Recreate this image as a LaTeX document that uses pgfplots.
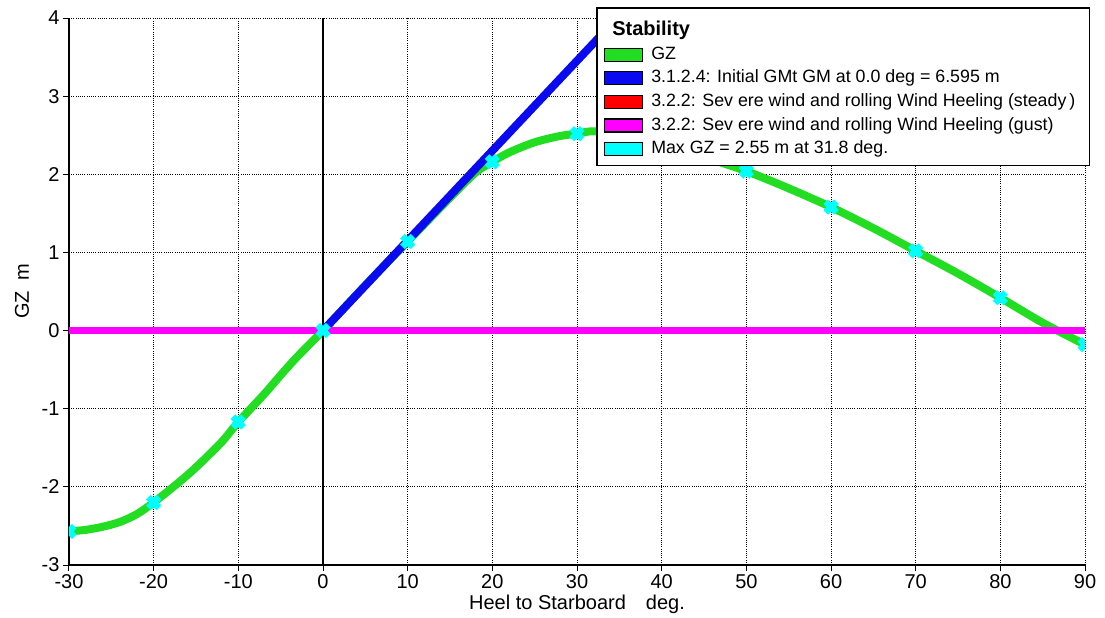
\documentclass[border=0pt]{standalone}
\usepackage{fontspec}
\setmainfont{Liberation Sans}
\usepackage{pgfplots}
\pgfplotsset{compat=1.18}
\definecolor{gzgreen}{RGB}{34,221,34}
\definecolor{gmblue}{RGB}{10,10,240}
\definecolor{wmag}{RGB}{255,0,255}
\definecolor{wred}{RGB}{255,0,0}
\definecolor{mcyan}{RGB}{0,255,255}
\pgfplotstableread{
x y
-30 -2.57
-28 -2.55
-26 -2.51
-24 -2.45
-22 -2.35
-20 -2.20
-17 -1.94
-15 -1.75
-12 -1.43
-10 -1.17
-7 -0.82
-5 -0.57
-3 -0.33
0 0
5 0.58
10 1.14
15 1.70
18 2.02
20 2.16
22 2.28
25 2.41
28 2.49
30 2.52
31.8 2.55
35 2.52
40 2.38
45 2.22
50 2.04
55 1.82
60 1.58
65 1.31
70 1.02
75 0.73
80 0.42
85 0.10
90 -0.18
}\gzdata
\pgfplotstableread{
x y
-30 -2.57
-20 -2.20
-10 -1.17
0 0
10 1.14
20 2.16
30 2.52
40 2.38
50 2.04
60 1.58
70 1.02
80 0.42
90 -0.18
}\markdata
\begin{document}
\begin{tikzpicture}
\useasboundingbox (-69pt,-53pt) rectangle (1036pt,565pt);
\begin{axis}[
  at={(0pt,0pt)}, anchor=south west,
  scale only axis, width=1016pt, height=547pt,
  xmin=-30, xmax=90, ymin=-3, ymax=4,
  xtick={-30,-20,...,90}, ytick={-3,-2,...,4},
  axis lines=left, axis line style={-, line width=1.8pt, black},
  grid=major, grid style={black, line width=1pt, dash pattern=on 1pt off 1.2pt},
  tick style={black, line width=1pt}, major tick length=6pt, tick align=outside,
  ticklabel style={font=\fontsize{20}{24}\selectfont},
  /pgf/number format/assume math mode=true,
  xlabel={Heel to Starboard\quad deg.}, ylabel={GZ\enspace m},
  xlabel style={font=\fontsize{20}{24}\selectfont, at={([yshift=-39pt]axis description cs:0.5,0)}, anchor=center},
  ylabel style={font=\fontsize{20}{24}\selectfont, at={([xshift=-47pt]axis description cs:0,0.5)}, anchor=center},
  clip marker paths=true,
  legend cell align=left,
  legend style={at={(1.005,1.02)}, anchor=north east, draw=black, line width=1.5pt,
    font=\fontsize{17.8}{22}\selectfont, inner xsep=7pt, inner ysep=4.5pt, row sep=0pt,
    nodes={inner xsep=0pt, inner ysep=2.3pt, text height=14pt, text depth=5pt}},
]
\addplot[gzgreen, line width=8pt, smooth, forget plot] table {\gzdata};
\addplot[black, line width=1.8pt, forget plot] coordinates {(0,-3) (0,4)};
\addplot[gmblue, line width=8pt, forget plot] coordinates {(0,0) (57.3,6.595)};
\addplot[wred, line width=7pt, forget plot] coordinates {(-30,0) (90,0)};
\addplot[wmag, line width=7pt, forget plot] coordinates {(-30,0) (90,0)};
\addplot[only marks, mark=x, mark size=7.5pt, mark options={draw=mcyan, line width=6.5pt}, forget plot] table {\markdata};

\addlegendimage{legend image code/.code={}}
\addlegendentry[text height=21pt]{\hspace*{-39pt}\bfseries\fontsize{20}{24}\selectfont Stability}
\addlegendimage{legend image code/.code={\draw[fill=gzgreen,draw=black,line width=1.2pt] (0pt,-6.5pt) rectangle (38pt,6.5pt); \path (46pt,0pt);}}
\addlegendentry{GZ}
\addlegendimage{legend image code/.code={\draw[fill=gmblue,draw=black,line width=1.2pt] (0pt,-6.5pt) rectangle (38pt,6.5pt); \path (46pt,0pt);}}
\addlegendentry{3.1.2.4: Initial GMt GM at 0.0 deg = 6.595 m}
\addlegendimage{legend image code/.code={\draw[fill=wred,draw=black,line width=1.2pt] (0pt,-6.5pt) rectangle (38pt,6.5pt); \path (46pt,0pt);}}
\addlegendentry{3.2.2: Sev ere wind and rolling Wind Heeling (steady\,)\hspace*{7pt}}
\addlegendimage{legend image code/.code={\draw[fill=wmag,draw=black,line width=1.2pt] (0pt,-6.5pt) rectangle (38pt,6.5pt); \path (46pt,0pt);}}
\addlegendentry{3.2.2: Sev ere wind and rolling Wind Heeling (gust)}
\addlegendimage{legend image code/.code={\draw[fill=mcyan,draw=black,line width=1.2pt] (0pt,-6.5pt) rectangle (38pt,6.5pt); \path (46pt,0pt);}}
\addlegendentry{Max GZ = 2.55 m at 31.8 deg.}
\end{axis}
\end{tikzpicture}
\end{document}
